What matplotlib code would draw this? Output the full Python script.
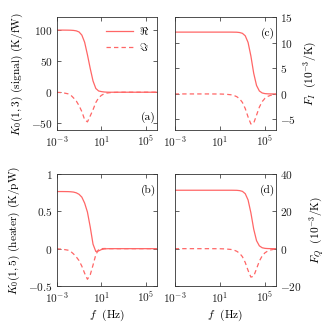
import matplotlib
matplotlib.use("Agg")
import matplotlib.pyplot as plt
from matplotlib.ticker import FixedLocator, FuncFormatter, NullLocator
import numpy as np

plt.rcParams['font.family'] = 'serif'
plt.rcParams['font.serif'] = ['cmr10']
plt.rcParams['mathtext.fontset'] = 'cm'
plt.rcParams['axes.unicode_minus'] = False
plt.rcParams['axes.formatter.use_mathtext'] = True

# ---------------- data (log10 of frequency in Hz) ----------------
logf_ab = [-3, -2.5, -2, -1.75, -1.5, -1.25, -1, -0.75, -0.5, -0.25, 0, 0.25,
           0.5, 0.75, 1, 1.25, 1.5, 1.75, 2, 2.5, 3, 4, 5, 6]
a_re = [99.5, 99.5, 99.4, 99.3, 99.0, 98.3, 96.5, 91.5, 80, 60, 38, 18,
        6, 2, 1, 0.4, 0.1, 0, 0, 0, 0, 0, 0, 0]
a_im = [-0.2, -0.6, -2.5, -4.5, -9, -14, -21.5, -31, -44, -47.5, -38, -28,
        -16.5, -9, -5, -2.5, -1.3, -0.7, -0.4, -0.1, 0, 0, 0, 0]
b_re = [0.765, 0.765, 0.764, 0.762, 0.758, 0.748, 0.728, 0.69, 0.61, 0.49, 0.29, 0.06,
        -0.038, -0.03, -0.012, -0.004, -0.001, 0, 0, 0, 0, 0, 0, 0]
b_im = [-0.002, -0.007, -0.02, -0.037, -0.07, -0.11, -0.16, -0.235, -0.33, -0.41, -0.35, -0.22,
        -0.08, -0.012, 0, 0.002, 0.001, 0, 0, 0, 0, 0, 0, 0]

logf_cd = [-3, -1, 0, 1, 1.5, 2, 2.25, 2.5, 2.75, 3, 3.25, 3.5, 3.75, 4,
           4.25, 4.5, 4.75, 5, 5.25, 5.5, 5.75, 6]
c_re = [12.1, 12.1, 12.1, 12.1, 12.1, 12.1, 12.09, 12.08, 12.02, 11.86, 11.38, 10.08, 7.42, 4.04,
        1.655, 0.578, 0.189, 0.06, 0.019, 0.006, 0.002, 0]
c_im = [0, -0.002, -0.002, -0.017, -0.054, -0.171, -0.30, -0.54, -0.955, -1.67, -2.86, -4.51, -5.89, -5.71,
        -4.16, -2.58, -1.50, -0.85, -0.48, -0.27, -0.15, -0.086]
d_re = [31.3, 31.3, 31.3, 31.3, 31.3, 31.3, 31.28, 31.25, 31.1, 30.7, 29.45, 26.1, 19.2, 10.45,
        4.28, 1.5, 0.49, 0.16, 0.05, 0.015, 0, 0]
d_im = [0, -0.005, -0.005, -0.04, -0.14, -0.44, -0.78, -1.4, -2.47, -4.32, -7.4, -11.67, -15.24, -14.77,
        -10.76, -6.67, -3.88, -2.2, -1.24, -0.7, -0.39, -0.22]

xticks = [1e-3, 1e1, 1e5]
xticklabels = [r'$10^{-3}$', r'$10^{1}$', r'$10^{5}$']

panels = [
    dict(pos=[0.1713, 0.6034, 0.3039, 0.3437], f=logf_ab, re=a_re, im=a_im, ylim=(-60, 120),
         yticks=[-50, 0, 50, 100], ylabel=r'$K_0(1,3)$ (signal) (K/fW)', side='left',
         tag='(a)', tagpos='bottom', xlabel=None, legend=True),
    dict(pos=[0.1713, 0.1254, 0.3039, 0.3425], f=logf_ab, re=b_re, im=b_im, ylim=(-0.5, 1),
         yticks=[-0.5, 0, 0.5, 1], ylabel=r'$K_0(1,5)$ (heater) (K/pW)', side='left',
         tag='(b)', tagpos='top', xlabel=r'$f\ $ (Hz)', legend=False),
    dict(pos=[0.5278, 0.6034, 0.3069, 0.3437], f=logf_cd, re=c_re, im=c_im, ylim=(-7, 15),
         yticks=[-5, 0, 5, 10, 15], ylabel=r'$F_I\ \ (10^{-3}/\mathrm{K})$', side='right',
         tag='(c)', tagpos='top', xlabel=None, legend=False),
    dict(pos=[0.5278, 0.1254, 0.3069, 0.3425], f=logf_cd, re=d_re, im=d_im, ylim=(-20, 40),
         yticks=[-20, 0, 20, 40], ylabel=r'$F_Q\ \ (10^{-3}/\mathrm{K})$', side='right',
         tag='(d)', tagpos='top', xlabel=r'$f\ $ (Hz)', legend=False),
]

color = '#ff6666'
fig = plt.figure(figsize=(3.31, 3.27), dpi=100)
fs = 8.2

def yfmt(v, p):
    return r'$%g$' % v

for P in panels:
    ax = fig.add_axes(P['pos'])
    f = 10.0 ** np.array(P['f'])
    ax.plot(f, P['re'], color=color, lw=0.9, label=r'$\Re$')
    ax.plot(f, P['im'], color=color, lw=0.9, ls=(0, (3.5, 2.5)), label=r'$\Im$')
    ax.set_xscale('log')
    ax.set_xlim(1e-3, 1e6)
    ax.set_ylim(*P['ylim'])
    ax.xaxis.set_major_locator(FixedLocator(xticks))
    ax.set_xticklabels(xticklabels)
    ax.xaxis.set_minor_locator(NullLocator())
    ax.yaxis.set_major_locator(FixedLocator(P['yticks']))
    ax.yaxis.set_major_formatter(FuncFormatter(yfmt))
    ax.tick_params(direction='in', length=3, width=0.5, top=True, right=True, left=True,
                   labelsize=fs, colors='#222222', pad=3)
    for s in ax.spines.values():
        s.set_linewidth(0.6)
        s.set_color('#333333')
    if P['side'] == 'right':
        ax.yaxis.tick_right()
        ax.tick_params(left=True, right=True, direction='in')
        ax.yaxis.set_label_position('right')
        ax.set_ylabel(P['ylabel'], fontsize=fs, labelpad=4)
    else:
        ax.set_ylabel(P['ylabel'], fontsize=fs, labelpad=4)
    if P['xlabel']:
        ax.set_xlabel(P['xlabel'], fontsize=fs, labelpad=2)
    if P['tagpos'] == 'top':
        ax.text(0.985, 0.905, P['tag'], transform=ax.transAxes, ha='right', va='top', fontsize=fs)
    else:
        ax.text(0.985, 0.06, P['tag'], transform=ax.transAxes, ha='right', va='bottom', fontsize=fs)
    if P['legend']:
        ax.legend(loc='upper right', frameon=False, fontsize=fs, handlelength=2.4,
                  handletextpad=0.5, labelspacing=0.35, borderaxespad=0.3)

fig.savefig('out.png', dpi=100)
